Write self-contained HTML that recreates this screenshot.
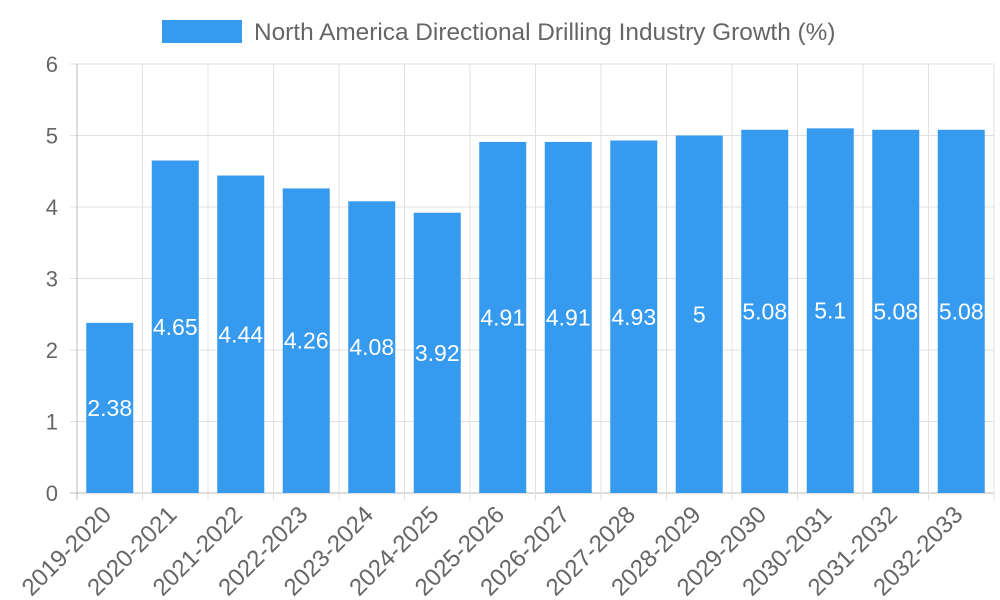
<!DOCTYPE html>
<html><head><meta charset="utf-8"><style>
body{margin:0;background:#fff;}
svg{display:block;font-family:"Liberation Sans",sans-serif;}
</style></head><body>
<svg id="chart" width="1000" height="600">
<g>
<rect x="162" y="20" width="80" height="23" fill="#369bef"></rect>
<text x="254" y="40" font-size="24.4" fill="#666">North America Directional Drilling Industry Growth (%)</text>
</g>
<g id="grid"></g>
<g id="bars"></g>
<g id="labels"></g>
<g id="xaxis"></g>
<g id="yaxis"></g>
</svg>
<script>
const categories=["2019-2020","2020-2021","2021-2022","2022-2023","2023-2024","2024-2025","2025-2026","2026-2027","2027-2028","2028-2029","2029-2030","2030-2031","2031-2032","2032-2033"];
const values=[2.38,4.65,4.44,4.26,4.08,3.92,4.91,4.91,4.93,5,5.08,5.1,5.08,5.08];
const yTicks=[0,1,2,3,4,5,6];
const NS="http://www.w3.org/2000/svg";
const L=77,R=994,T=64,B=493,yMax=6;
const band=(R-L)/categories.length;
const y=v=>B-(v/yMax)*(B-T);
const xc=i=>L+band*(i+0.5);
function mk(tag,attrs,parent,text){const e=document.createElementNS(NS,tag);for(const k in attrs)e.setAttribute(k,attrs[k]);if(text!==undefined)e.textContent=text;parent.appendChild(e);return e;}
const grid=document.getElementById('grid'),bars=document.getElementById('bars'),labels=document.getElementById('labels'),xaxis=document.getElementById('xaxis'),yaxis=document.getElementById('yaxis');
yTicks.forEach(t=>{
 const l=mk('line',{x1:70,x2:R,y1:y(t),y2:y(t),stroke:t===0?'#bbb':'#e0e0e0','stroke-width':1},grid);
 
 
 const tx=mk('text',{x:58,y:y(t)+8,'text-anchor':'end','font-size':22,fill:'#666'},yaxis,String(t));
 
 
});
for(let i=0;i<=categories.length;i++){
 const x=L+band*i;
 const l=mk('line',{x1:x,x2:x,y1:T,y2:B+7,stroke:i===0?'#bbb':'#e0e0e0','stroke-width':1},grid);
 
 
}
const bw=47;
categories.forEach((c,i)=>{
 const v=values[i];
 const r=mk('rect',{x:xc(i)-bw/2,y:y(v),width:bw,height:B-y(v),fill:'#369bef'},bars);
 
 
 const t=mk('text',{x:xc(i),y:(y(v)+B)/2+8,'text-anchor':'middle','font-size':23,fill:'#fff'},labels,String(v));
 
 
 const ax=xc(i)+3, ay=516;
 const xl=mk('text',{x:ax,y:ay,'text-anchor':'end','font-size':24,fill:'#666',transform:`rotate(-45 ${ax} ${ay})`},xaxis,c);
 
 
});
</script>
</body></html>
